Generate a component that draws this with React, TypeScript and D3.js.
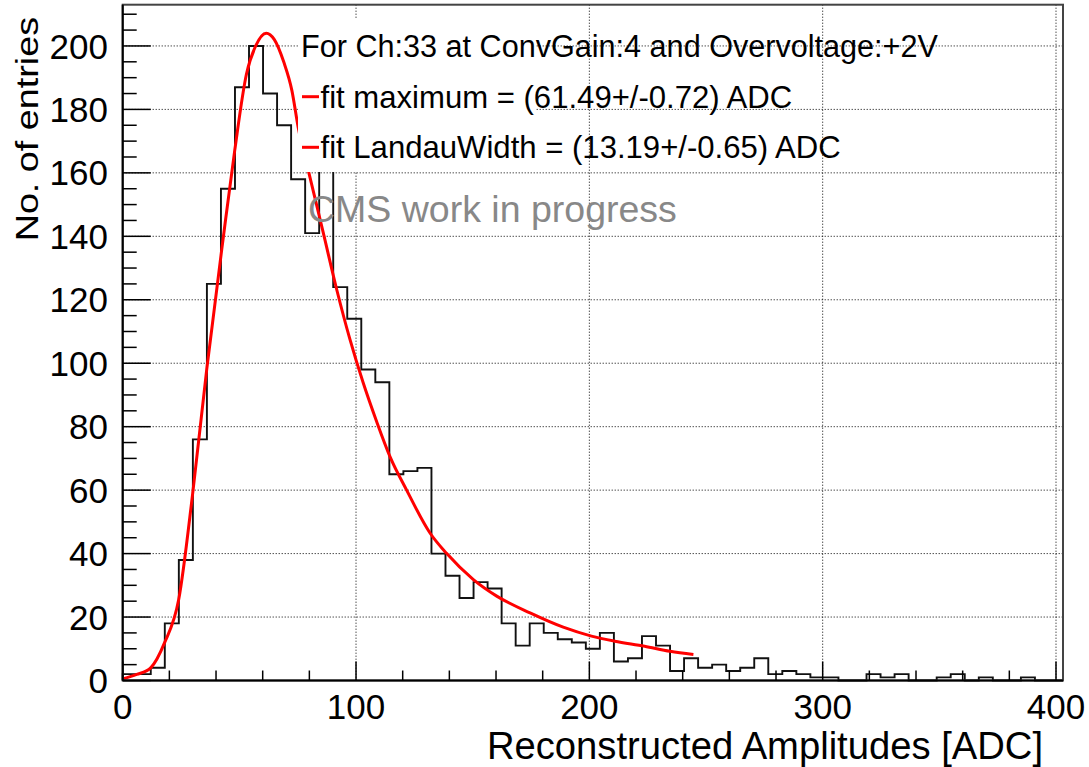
import React, { useEffect } from "react";
import * as d3 from "d3";

// ---- data ----
const binCounts: number[] = [
  2, 2, 4, 18, 38, 76, 125, 155, 187, 200,
  185, 175, 158, 141, 166, 124, 114, 98, 94, 65,
  66, 67, 40, 33, 26, 31, 29, 18, 11, 18,
  15, 13, 12, 10, 15, 6, 7, 14, 11, 3,
  7, 4, 5, 3, 4, 7, 2, 3, 2, 1,
  1, 0, 0, 2, 1, 2, 0, 0, 1, 2,
  0, 1, 0, 0, 1, 0, 0,
];
const xRange: [number, number] = [0, 403];
const yRange: [number, number] = [0, 213];

const fitX: number[] = [0, 6, 12, 18, 24, 30, 36, 43, 48, 53, 57, 61.5, 65, 69, 72.5, 75.3, 79.8, 86, 91.8, 97.4, 103, 108.9, 114.6, 121.7, 131.7, 138.9, 150.3, 160.3, 174.6, 188.8, 200.9, 210.9, 223.7, 234.6, 244.6];
const fitY: number[] = [0.5, 1.9, 4, 12, 25.5, 59, 98, 139, 167, 191, 200, 204, 202, 195, 186, 174, 160, 141, 123, 107.5, 94, 81.5, 70.5, 60, 46.5, 40, 31.8, 26.6, 21.3, 16.8, 14, 12.4, 10.8, 9.2, 8.2];

const xMajorTicks: number[] = [0, 100, 200, 300, 400];
const yMajorTicks: number[] = [0, 20, 40, 60, 80, 100, 120, 140, 160, 180, 200];

const legendHeader = "For Ch:33 at ConvGain:4 and Overvoltage:+2V";
const legendEntries: string[] = [
  "fit maximum = (61.49+/-0.72) ADC",
  "fit LandauWidth = (13.19+/-0.65) ADC",
];
const watermark = "CMS work in progress";
const xTitle = "Reconstructed Amplitudes [ADC]";
const yTitle = "No. of entries";

// ---- layout ----
const W = 1089;
const H = 767;
const L = 122.7;
const R = 1063;
const T = 4.7;
const B = 680.5;
const FONT = "'Liberation Sans', Arial, Helvetica, sans-serif";

export default function App() {
  useEffect(() => {
    document.body.style.margin = "0";
  }, []);

  const x = d3.scaleLinear().domain(xRange).range([L, R]);
  const y = d3.scaleLinear().domain(yRange).range([B, T]);

  const nb = binCounts.length;
  const bw = (xRange[1] - xRange[0]) / nb;
  let hist = `M${x(0)},${y(0)}`;
  binCounts.forEach((c, i) => {
    hist += `L${x(i * bw)},${y(c)}L${x((i + 1) * bw)},${y(c)}`;
  });
  hist += `L${x(nb * bw)},${y(0)}`;

  const fitPts: [number, number][] = fitX.map((v, i) => [v, fitY[i]]);
  const fitLine = d3
    .line<[number, number]>()
    .x((d) => x(d[0]))
    .y((d) => y(d[1]))
    .curve(d3.curveMonotoneX)(fitPts) as string;

  const xMinor = d3.range(0, xRange[1] + 0.001, 20);
  const yMinor = d3.range(0, yRange[1] + 0.001, 5);

  const legX = 298;
  const legY = 18;
  const legW = 238;
  const legH = 154;
  const rowBase = [56.7, 107.7, 158.3];

  return (
    <svg
      width={W}
      height={H}
      style={{ position: "absolute", left: 0, top: 0, background: "#fff" }}
      fontFamily={FONT}
    >
      <rect x={0} y={0} width={W} height={H} fill="#fff" />
      {/* grid */}
      <g stroke="#000" strokeWidth={1} strokeDasharray="1 2">
        {xMajorTicks
          .filter((t) => t > 0)
          .map((t) => (
            <line key={"gx" + t} x1={x(t)} x2={x(t)} y1={T} y2={B} />
          ))}
        {yMajorTicks
          .filter((t) => t > 0)
          .map((t) => (
            <line key={"gy" + t} x1={L} x2={R} y1={y(t)} y2={y(t)} />
          ))}
      </g>
      {/* histogram */}
      <path d={hist} fill="none" stroke="#111" strokeWidth={1.9} />
      {/* fit */}
      <path d={fitLine} fill="none" stroke="#ff0000" strokeWidth={3} />
      {/* legend */}
      <rect x={legX} y={legY} width={legW} height={legH} fill="#fff" />
      <text x={301} y={rowBase[0]} fontSize={30.6} fill="#000">
        {legendHeader}
      </text>
      {legendEntries.map((s, i) => (
        <g key={"le" + i}>
          <line x1={302} x2={319} y1={rowBase[i + 1] - 11} y2={rowBase[i + 1] - 11} stroke="#ff0000" strokeWidth={3} />
          <text x={320.5} y={rowBase[i + 1]} fontSize={31.1} fill="#000">
            {s}
          </text>
        </g>
      ))}
      {/* watermark */}
      <text x={308} y={222} fontSize={37.5} fill="#888">
        {watermark}
      </text>
      {/* frame */}
      <rect x={L} y={T} width={R - L} height={B - T} fill="none" stroke="#444" strokeWidth={2} />
      <line x1={L} x2={L} y1={T} y2={B} stroke="#000" strokeWidth={2} />
      <line x1={L} x2={R} y1={B} y2={B} stroke="#000" strokeWidth={2} />
      {/* ticks */}
      <g stroke="#000" strokeWidth={1.5}>
        {xMinor.map((t) => {
          const major = t % 100 === 0;
          return <line key={"xt" + t} x1={x(t)} x2={x(t)} y1={B} y2={B - (major ? 19 : 10)} />;
        })}
        {yMinor.map((t) => {
          const major = t % 20 === 0;
          return <line key={"yt" + t} x1={L} x2={L + (major ? 28 : 14)} y1={y(t)} y2={y(t)} />;
        })}
      </g>
      {/* tick labels */}
      {xMajorTicks.map((t) => (
        <text key={"xl" + t} x={x(t)} y={718.5} fontSize={35} textAnchor="middle" fill="#000">
          {t}
        </text>
      ))}
      {yMajorTicks.map((t) => (
        <text key={"yl" + t} x={108} y={y(t)} dy="0.36em" fontSize={35} textAnchor="end" fill="#000">
          {t}
        </text>
      ))}
      {/* axis titles */}
      <text x={1043} y={759} fontSize={38.2} textAnchor="end" fill="#000">
        {xTitle}
      </text>
      <text
        transform={`translate(38,17) rotate(-90) scale(1.02,0.86)`}
        fontSize={37}
        textAnchor="end"
        fill="#000"
      >
        {yTitle}
      </text>
    </svg>
  );
}
